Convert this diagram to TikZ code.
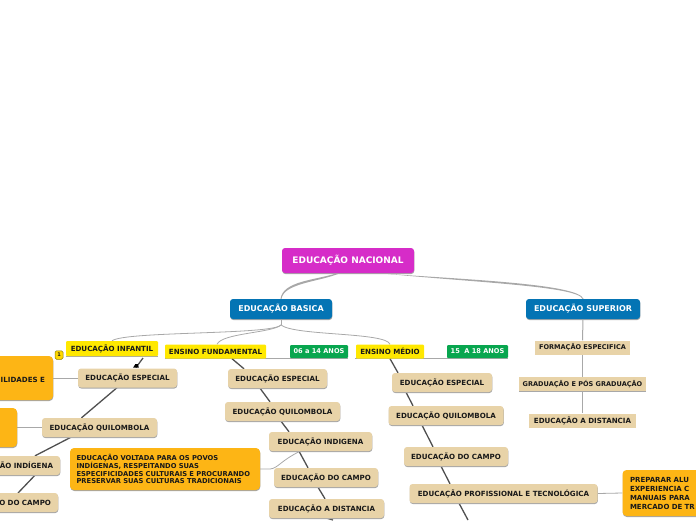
\documentclass[tikz,border=0pt]{standalone}
\usepackage{fontspec}
\setmainfont{DejaVu Sans}
\usetikzlibrary{shadows,backgrounds}
\definecolor{rootc}{HTML}{D62CC8}
\definecolor{mainc}{HTML}{0474B4}
\definecolor{subc}{HTML}{E8D3A8}
\definecolor{orangec}{HTML}{FDB515}
\definecolor{yelc}{HTML}{FFE800}
\definecolor{grnc}{HTML}{08A64F}
\definecolor{linec}{HTML}{A8A8A8}
\definecolor{spinec}{HTML}{505050}
\tikzset{
  base/.style={inner sep=0pt,align=center,font=\bfseries\fontsize{7.1}{8}\selectfont,text=black!90},
  shad/.style={general shadow={shadow xshift=0.3pt,shadow yshift=-1pt,fill=black!35}},
  rootbox/.style={base,shad,fill=rootc,rounded corners=3pt,minimum width=132pt,minimum height=25pt,text=white,font=\bfseries\fontsize{9}{10}\selectfont},
  mainbox/.style={base,shad,fill=mainc,rounded corners=3pt,minimum height=20pt,text=white,font=\bfseries\fontsize{8}{9}\selectfont},
  subbox/.style={base,shad,fill=subc,rounded corners=3pt,minimum height=19pt},
  cutbox/.style={subbox,align=right,inner xsep=7pt,text width=#1},
  flatbox/.style={base,fill=subc,minimum height=14pt,font=\bfseries\fontsize{6.55}{8}\selectfont},
  yelbox/.style={base,fill=yelc,rounded corners=1pt,minimum height=14pt},
  grnbox/.style={base,fill=grnc,rounded corners=1pt,minimum height=13pt,text=white,font=\bfseries\fontsize{6.6}{8}\selectfont},
  orgbox/.style={base,shad,fill=orangec,rounded corners=4pt,text width=#1,align=left,font=\bfseries\fontsize{6.75}{7.9}\selectfont},
  link/.style={draw=linec,line width=0.8pt},
  spine/.style={draw=spinec,line width=1.3pt},
  under/.style={draw=linec,line width=0.9pt},
  badge/.style={base,fill=yelc!85!orange,draw=black!45!yelc,line width=0.5pt,rounded corners=1.5pt,minimum width=8pt,minimum height=8.5pt,font=\bfseries\fontsize{5}{6}\selectfont},
}
\begin{document}
\begin{tikzpicture}[x=1pt,y=-1pt]
\useasboundingbox (0,0) rectangle (696,520);
\coordinate (leftend) at (18,493);
\coordinate (fundend) at (333,520);
\coordinate (medend) at (468,520);
\coordinate (blobtip) at (143,358);
\coordinate (blobend) at (136,367.5);
\coordinate (branch) at (281,325);
\coordinate (funduleft) at (165,358.5);
\coordinate (funduright) at (348,358.5);
\coordinate (meduleft) at (355,358.5);
\coordinate (meduright) at (508,358.5);

\node[rootbox] (root) at (348,260.5) {EDUCAÇÃO NACIONAL};
\node[mainbox,minimum width=102pt] (basica) at (281,309) {EDUCAÇÃO BASICA};
\node[mainbox,minimum width=114pt] (superior) at (583,309) {EDUCAÇÃO SUPERIOR};

\node[yelbox,minimum width=92pt,minimum height=15pt] (infantil) at (112,348.5) {EDUCAÇÃO INFANTIL};
\node[yelbox,minimum width=101pt] (fund) at (215.5,351.5) {ENSINO FUNDAMENTAL};
\node[grnbox,minimum width=58pt] (a06) at (319,351.5) {06 a 14 ANOS};
\node[yelbox,minimum width=68pt] (medio) at (390,351.5) {ENSINO MÉDIO};
\node[grnbox,minimum width=61pt] (a15) at (477.5,351.5) {15\ \ A 18 ANOS};
\node[badge] (um) at (59,355) {1};

\node[flatbox,minimum width=95pt] (formacao) at (582.5,347.5) {FORMAÇÃO ESPECIFICA};
\node[flatbox,minimum width=127pt] (grad) at (582.5,384) {GRADUAÇÃO E PÓS GRADUAÇÃO};
\node[flatbox,minimum width=107pt,font=\bfseries\fontsize{7.1}{8}\selectfont] (sdist) at (582.5,420.5) {EDUCAÇÃO A DISTANCIA};

% Infantil column
\node[subbox,minimum width=99pt] (ie) at (127.5,378) {EDUCAÇÃO ESPECIAL};
\node[subbox,minimum width=115pt] (iq) at (99.5,427.5) {EDUCAÇÃO QUILOMBOLA};
\node[cutbox=88pt] (ii) at (9,465.5) {ÃO INDÍGENA};
\node[cutbox=90pt] (ic) at (6,502.5) {O DO CAMPO};
\node[orgbox=100pt,minimum height=44pt,inner xsep=8pt,align=right,font=\bfseries\fontsize{7.1}{8}\selectfont] (o1) at (-5,378) {\smash{\raisebox{-4pt}{ILIDADES E}}};
\node[orgbox=40pt,minimum height=39pt] (o2) at (-3,427.5) {\strut};
\node[orgbox=177pt,minimum height=42pt,inner xsep=6.5pt] (o3) at (165,469) {EDUCAÇÃO VOLTADA PARA OS POVOS\\INDÍGENAS, RESPEITANDO SUAS\\ESPECIFICIDADES CULTURAIS E PROCURANDO\\PRESERVAR SUAS CULTURAS TRADICIONAIS};

% Fundamental column
\node[subbox,minimum width=99pt] (fe) at (277.5,378.5) {EDUCAÇÃO ESPECIAL};
\node[subbox,minimum width=115pt] (fq) at (282.5,411.5) {EDUCAÇÃO QUILOMBOLA};
\node[subbox,minimum width=103pt] (fi) at (320.5,441.5) {EDUCAÇÃO INDIGENA};
\node[subbox,minimum width=104pt] (fc) at (326,477.5) {EDUCAÇÃO DO CAMPO};
\node[subbox,minimum width=115pt] (fd) at (326.5,508.5) {EDUCAÇÃO A DISTANCIA};

% Medio column
\node[subbox,minimum width=100pt] (me) at (442,382.5) {EDUCAÇÃO ESPECIAL};
\node[subbox,minimum width=115pt] (mq) at (446,415.5) {EDUCAÇÃO QUILOMBOLA};
\node[subbox,minimum width=104pt] (mc) at (456,456.5) {EDUCAÇÃO DO CAMPO};
\node[subbox,minimum width=188pt] (mp) at (503.5,493.5) {EDUCAÇÃO PROFISSIONAL E TECNOLÓGICA};
\node[orgbox=110pt,minimum height=46pt,inner xsep=7.5pt,font=\bfseries\fontsize{7}{9}\selectfont] (o4) at (685,493) {PREPARAR ALU\\EXPERIENCIA C\\MANUAIS PARA\\MERCADO DE TR};

\begin{scope}[on background layer]
% root branches, tapered
\fill[linec] ([xshift=-11pt]root.south) .. controls +(-22,7) and (283,281) .. ([xshift=-.5pt]basica.north)
  -- ([xshift=.5pt]basica.north) .. controls (284,283) and +(-20,8.5) .. ([xshift=-8pt]root.south) -- cycle;
\fill[linec] ([xshift=30pt]root.south) .. controls +(92,6.5) and (578,284) .. ([xshift=.5pt]superior.north)
  -- ([xshift=-.5pt]superior.north) .. controls (577,286) and +(90,9) .. ([xshift=32pt]root.south) -- cycle;
% basica branches
\draw[link] (basica.south) -- (branch);
\draw[link] (branch) .. controls (272,335) and (125,331) .. (infantil.north);
\draw[link] (branch) .. controls (272,333) and (222,333) .. ([xshift=1.5pt]fund.north);
\draw[link] (branch) .. controls (295,336) and (386,332) .. (medio.north);
% underlines of the topic-age groups
\draw[under] (funduleft) -- (funduright);
\draw[under] (meduleft) -- (meduright);
\draw[under,line width=0.6pt] (infantil.south west) -- (infantil.south east);
% superior stem
\draw[link,line width=1pt] (superior.south) -- (formacao.north);
\draw[link,line width=1pt] (formacao.south) -- (grad.north);
\draw[link,line width=1pt] (grad.south) -- (sdist.north);
\draw[under] (formacao.south west) -- (formacao.south east);
\draw[under] (grad.south west) -- (grad.south east);
\draw[under] (sdist.south west) -- (sdist.south east);
% spines
\draw[spine] (blobtip) -- (blobend);
\fill[black] (blobend) ++(-2.8,0) -- ++(5.6,0) -- ++(-1,-3.5) -- ++(-2.4,0) -- cycle;
\draw[spine] ([xshift=-10.5pt]ie.south) -- ([xshift=-18pt]iq.north);
\draw[spine] ([xshift=-28.5pt]iq.south) -- ([xshift=26pt]ii.north);
\draw[spine] ([xshift=26pt]ii.south) -- (leftend);
\draw[spine] ([xshift=16.5pt]fund.south) -- ([xshift=-33.5pt]fe.north);
\draw[spine] ([xshift=-17.5pt]fe.south) -- ([xshift=-12.5pt]fq.north);
\draw[spine] ([xshift=-1.5pt]fq.south) -- ([xshift=-31.5pt]fi.north);
\draw[spine] ([xshift=-21.5pt]fi.south) -- ([xshift=-18pt]fc.north);
\draw[spine] ([xshift=-8pt]fc.south) -- ([xshift=-1.5pt]fd.north);
\draw[spine] ([xshift=.5pt]fd.south) -- (fundend);
\draw[spine] (medio.south) -- ([xshift=-44pt]me.north);
\draw[spine] ([xshift=-36pt]me.south) -- ([xshift=-33pt]mq.north);
\draw[spine] ([xshift=-24pt]mq.south) -- ([xshift=-23pt]mc.north);
\draw[spine] ([xshift=-15pt]mc.south) -- ([xshift=-53.5pt]mp.north);
\draw[spine] ([xshift=-44.5pt]mp.south) -- (medend);
% orange links
\draw[link] (o1.east) -- (ie.west);
\draw[link] (o2.east) -- (iq.west);
\draw[link] (o3.east) -- ++(10,0) .. controls +(8,-1) and +(-20,10) .. ([xshift=-20.5pt]fi.south);
\draw[link] (mp.east) -- (o4.west);
\end{scope}
\end{tikzpicture}
\end{document}
